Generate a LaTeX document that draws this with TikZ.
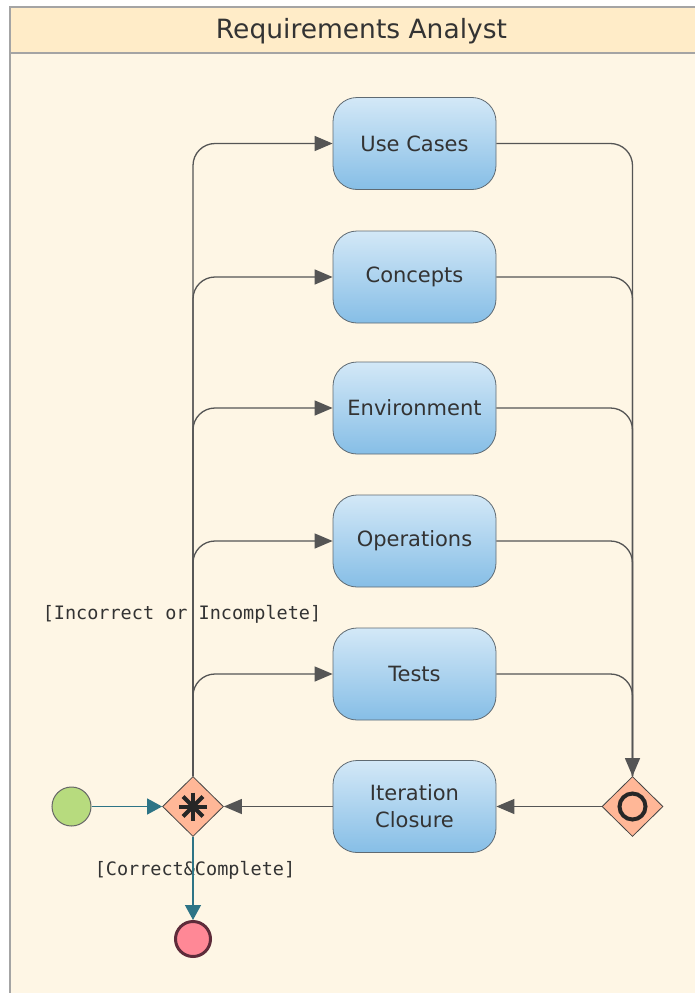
\documentclass[tikz,border=0pt]{standalone}
\usepackage{fontspec}
\setmainfont{DejaVu Sans}
\setmonofont{DejaVu Sans Mono}
\usetikzlibrary{shapes.geometric,arrows.meta}
\definecolor{laneline}{HTML}{A4A4A4}
\definecolor{lanehead}{HTML}{FFECC8}
\definecolor{lanebody}{HTML}{FEF6E5}
\definecolor{flowgray}{HTML}{555555}
\definecolor{boxtop}{HTML}{D3E8F7}
\definecolor{boxbot}{HTML}{86BEE6}
\definecolor{boxline}{HTML}{5F6A72}
\definecolor{gatefill}{HTML}{FFB797}
\definecolor{ctrlteal}{HTML}{2D7486}
\definecolor{startfill}{HTML}{B7DB7E}
\definecolor{endfill}{HTML}{FF8896}
\definecolor{endline}{HTML}{5E2C3A}
\definecolor{txt}{HTML}{333333}

\begin{document}
\begin{tikzpicture}[x=1pt,y=-1pt,>={Triangle[length=18pt,width=15pt]},
  act/.style={draw=boxline,line width=0.8pt,rounded corners=24pt,minimum width=163pt,minimum height=92pt,top color=boxtop,bottom color=boxbot,align=center,text=txt,font=\fontsize{21}{27}\selectfont,inner sep=2pt},
  gate/.style={draw=flowgray!80!black,diamond,fill=gatefill,minimum width=61pt,minimum height=60pt,inner sep=0pt,line width=0.8pt},
  flow/.style={draw=flowgray,line width=1.3pt,rounded corners=22pt},
  tealflow/.style={draw=ctrlteal,line width=1.3pt,>={Triangle[length=15pt,width=16pt]}},
  guard/.style={font=\ttfamily\fontsize{18.5}{22}\selectfont,text=txt,inner sep=0pt}]
  \useasboundingbox (0,0) rectangle (695,993);
  \fill[white] (0,0) rectangle (695,993);
  \fill[lanebody] (10,7) rectangle (695,993);
  \fill[lanehead] (10,7) rectangle (695,53);
  \draw[laneline,line width=1.5pt] (695,7) -- (10,7) -- (10,993);
  \draw[laneline,line width=1.5pt] (10,53) -- (695,53);
  \node[text=txt,font=\fontsize{26.5}{30}\selectfont] (title) at (361.5,31) {Requirements Analyst};
  \node[act] (uc) at (414.5,143.5) {Use Cases};
  \node[act] (cc) at (414.5,277) {Concepts};
  \node[act] (env) at (414.5,408) {Environment};
  \node[act] (ops) at (414.5,541) {Operations};
  \node[act] (tst) at (414.5,674) {Tests};
  \node[act] (ic) at (414.5,806.5) {Iteration\\Closure};
  \node[gate] (fork) at (193,806.5) {};
  \foreach \a in {0,45,90,135}
    \draw[line width=4pt,black!85] ([shift={(\a:14pt)}]fork.center) -- ([shift={(\a+180:14pt)}]fork.center);
  \node[gate] (merge) at (632.5,806.5) {};
  \draw[line width=4pt,black!85] (merge.center) circle[radius=13pt];
  \node[circle,draw=flowgray!90,line width=1pt,fill=startfill,minimum size=39pt,inner sep=0pt] (start) at (71.5,806.5) {};
  \node[circle,draw=endline,line width=3pt,fill=endfill,minimum size=35pt,inner sep=0pt] (final) at (193,939) {};
  \node[guard] (loopguard) at (182,614) {[Incorrect or Incomplete]};
  \node[guard] (doneguard) at (195,870) {[Correct\&Complete]};
  \foreach \b in {uc,cc,env,ops,tst}
    \draw[flow,->] (fork.north) |- (\b.west);
  \draw[flow,->] (uc.east) -| (merge.north);
  \foreach \b in {cc,env,ops,tst}
    \draw[flow] (\b.east) -| (merge.north);
  \draw[flow,->] (merge.west) -- (ic.east);
  \draw[flow,->] (ic.west) -- (fork.east);
  \draw[tealflow,->] (start) -- (fork.west);
  \draw[tealflow,->] (fork.south) -- (final.north);
\end{tikzpicture}
\end{document}
